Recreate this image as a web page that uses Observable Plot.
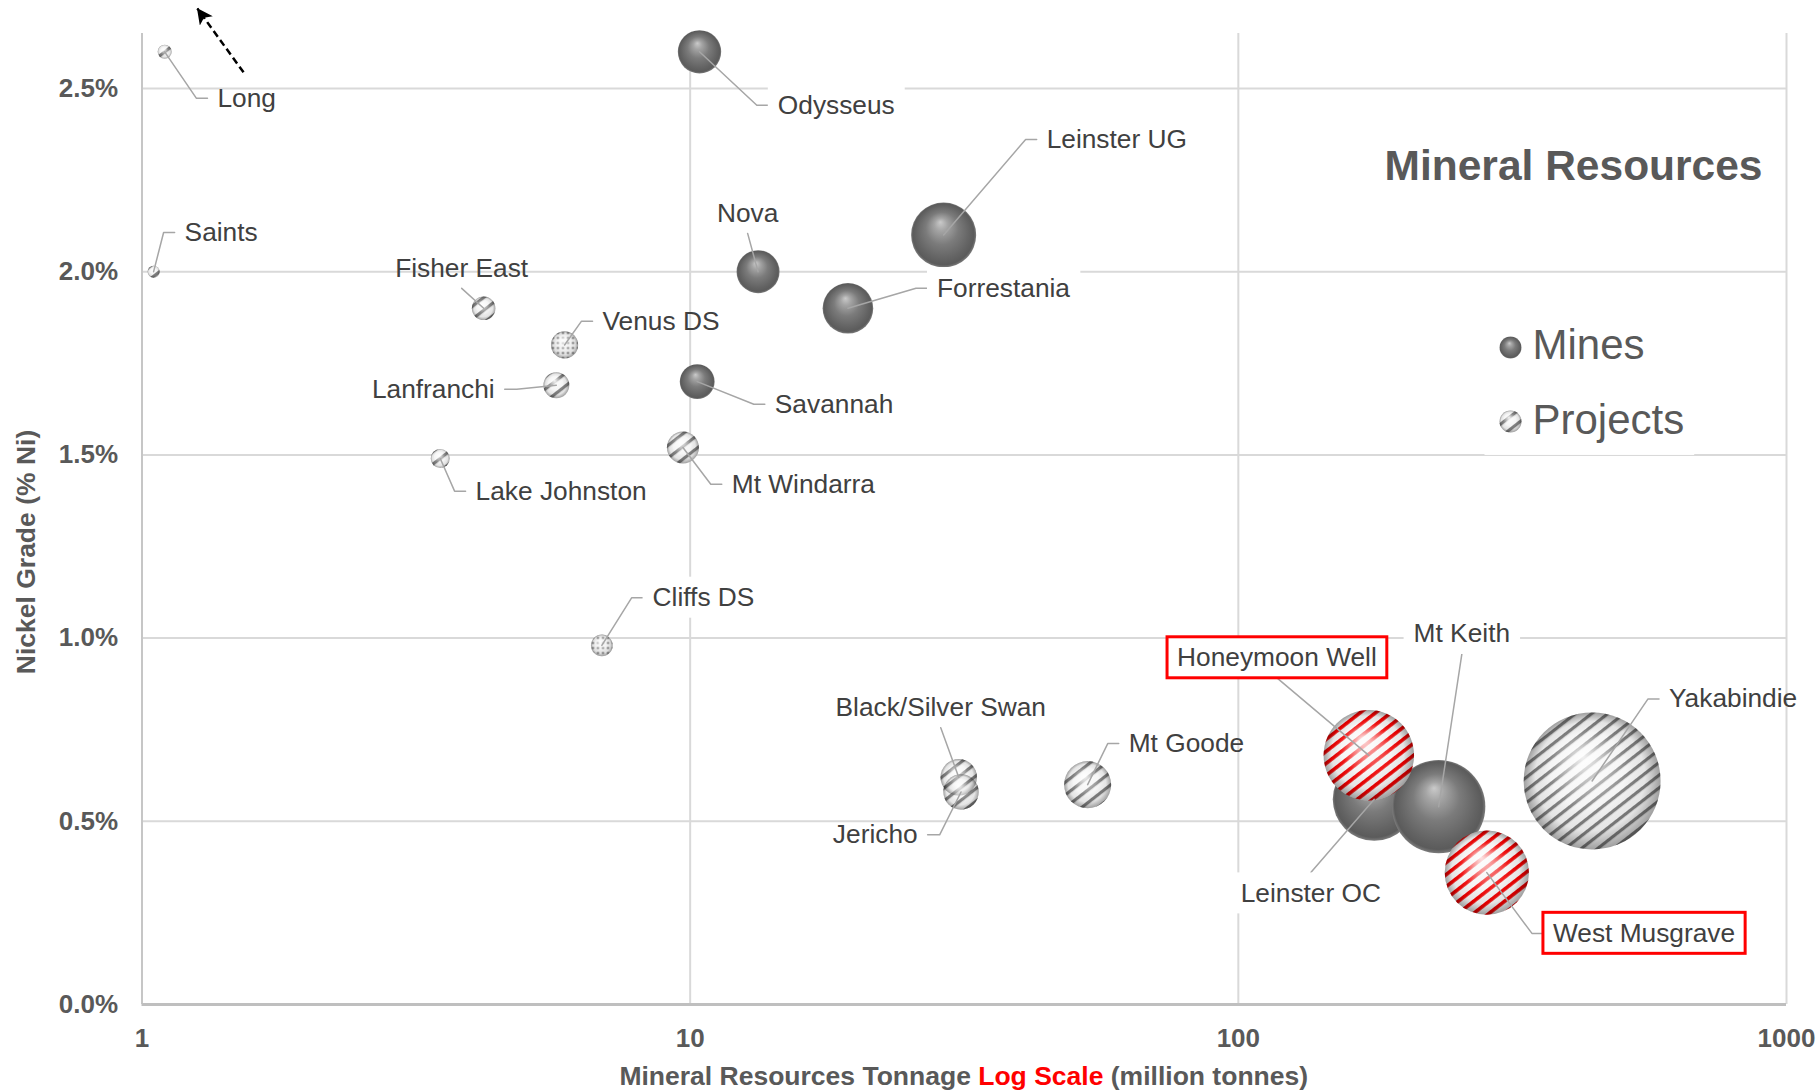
<!DOCTYPE html>
<html>
<head>
<meta charset="utf-8">
<script src="https://cdn.jsdelivr.net/npm/d3@7"></script>
<script src="https://cdn.jsdelivr.net/npm/@observablehq/plot@0.6"></script>
<style>
  html, body { margin: 0; padding: 0; background: #ffffff; overflow: hidden; }
  #chart svg g[aria-label^="x-axis"] text,
  #chart svg g[aria-label^="y-axis"] text {
    font-weight: 700; fill: #595959; font-size: 26px;
    font-family: 'Liberation Sans', Arial, Helvetica, sans-serif;
  }
</style>
</head>
<body>
<div id="chart"></div>
<script>
// ---------------- DATA ----------------
const names = [
  "Long", "Saints", "Odysseus", "Leinster UG", "Nova", "Forrestania", "Fisher East",
  "Venus DS", "Lanfranchi", "Savannah", "Lake Johnston", "Mt Windarra", "Cliffs DS",
  "Black/Silver Swan", "Jericho", "Mt Goode", "Honeymoon Well", "Leinster OC",
  "Mt Keith", "West Musgrave", "Yakabindie"
];
// Mineral resource tonnage (million tonnes)
const tonnage = [1.1, 1.05, 10.4, 29.0, 13.3, 19.4, 4.2, 5.9, 5.7, 10.3, 3.5, 9.7, 6.9,
                 30.9, 31.2, 53.1, 173, 177, 232, 284, 442];
// Nickel grade (% Ni)
const grade = [2.6, 2.0, 2.6, 2.1, 2.0, 1.9, 1.9, 1.8, 1.69, 1.7, 1.49, 1.52, 0.98,
               0.62, 0.58, 0.60, 0.68, 0.56, 0.54, 0.36, 0.61];
const category = ["Project", "Project", "Mine", "Mine", "Mine", "Mine", "Project",
                  "Project", "Project", "Mine", "Project", "Project", "Project",
                  "Project", "Project", "Project", "Project", "Mine",
                  "Mine", "Project", "Project"];
const texture = ["stripes", "stripes", "solid", "solid", "solid", "solid", "stripes",
                 "dots", "stripes", "solid", "stripes", "stripes", "dots",
                 "stripes", "stripes", "stripes", "red", "solid",
                 "solid", "red", "stripes"];
const highlighted = ["Honeymoon Well", "West Musgrave"];

const xTicks = [1, 10, 100, 1000];
const yTicks = [0, 0.5, 1.0, 1.5, 2.0, 2.5];
const legendLabels = ["Mines", "Projects"];
const chartTitle = "Mineral Resources";
const xTitleParts = ["Mineral Resources Tonnage ", "Log Scale", " (million tonnes)"];
const yTitle = "Nickel Grade (% Ni)";

// ---------------- LAYOUT (annotation placement, in data units) ----------------
const labelPlacement = [
  ["Long", 1.373, 2.473, "right"],
  ["Saints", 1.196, 2.107, "right"],
  ["Odysseus", 14.45, 2.454, "right"],
  ["Leinster UG", 44.7, 2.361, "right"],
  ["Nova", 12.73, 2.159, "above"],
  ["Forrestania", 28.2, 1.955, "right"],
  ["Fisher East", 3.83, 2.009, "above"],
  ["Venus DS", 6.92, 1.865, "right"],
  ["Lanfranchi", 4.40, 1.679, "left"],
  ["Savannah", 14.27, 1.638, "right"],
  ["Lake Johnston", 4.06, 1.401, "right"],
  ["Mt Windarra", 11.91, 1.420, "right"],
  ["Cliffs DS", 8.54, 1.110, "right"],
  ["Black/Silver Swan", 28.65, 0.810, "above"],
  ["Jericho", 26.0, 0.463, "left"],
  ["Mt Goode", 63.1, 0.712, "right"],
  ["Honeymoon Well", 117.6, 0.946, "above"],
  ["Mt Keith", 255.7, 1.011, "above"],
  ["Leinster OC", 135.6, 0.303, "below"],
  ["West Musgrave", 374.9, 0.194, "right"],
  ["Yakabindie", 610.5, 0.834, "right"]
];
const boxedLabels = ["Odysseus", "Forrestania", "Cliffs DS", "Mt Keith", "Leinster OC",
                     "Honeymoon Well", "West Musgrave"];
const arrowAnnotation = {x1: 1.532, y1: 2.544, x2: 1.262, y2: 2.718};

const FONT = "'Liberation Sans', Arial, Helvetica, sans-serif";
const W = 1818, H = 1091;
const M = {top: 33, right: 32, bottom: 87, left: 141.5};
const yMax = 2.65;
const LABEL_SIZE = 26.3;

// ---------------- BUILD ----------------
const deposits = names.map((name, i) => ({
  name, t: tonnage[i], g: grade[i], cat: category[i], tex: texture[i],
  c: tonnage[i] * grade[i] / 100   // contained nickel (Mt) -> bubble size
}));
const byName = new Map(deposits.map(d => [d.name, d]));
const mines = deposits.filter(d => d.cat === "Mine");
const projects = deposits.filter(d => d.cat === "Project");

const xs = d3.scaleLog([1, 1000], [M.left, W - M.right]);
const ys = d3.scaleLinear([0, yMax], [H - M.bottom, M.top]);

const labels = labelPlacement.map(([name, x, y, side]) => ({name, x, y, side}));
const leaders = labels.flatMap(l => {
  const d = byName.get(l.name);
  const px = xs(l.x), py = ys(l.y);
  const pts = l.side === "right" ? [[px - 21, py], [px - 10, py]]
    : l.side === "left" ? [[px + 22, py], [px + 10, py]]
    : l.side === "above" ? [[px, py + 20]]
    : [[px, py - 21]];
  return [{name: l.name, x: d.t, y: d.g},
          ...pts.map(([a, b]) => ({name: l.name, x: xs.invert(a), y: ys.invert(b)}))];
});

const dotOpts = {x: "t", y: "g", r: "c", sort: null};
const textOpts = {x: "x", y: "y", text: "name", fontSize: LABEL_SIZE, fill: "#404040"};

const plot = Plot.plot({
  width: W, height: H,
  marginTop: M.top, marginRight: M.right, marginBottom: M.bottom, marginLeft: M.left,
  style: {fontFamily: FONT, fontSize: "26px", color: "#595959", background: "white", overflow: "visible"},
  x: {type: "log", domain: [1, 1000], ticks: xTicks, tickFormat: d => String(d),
      tickSize: 0, tickPadding: 24, label: null},
  y: {domain: [0, yMax], ticks: yTicks, tickFormat: d => d.toFixed(1) + "%",
      tickSize: 0, tickPadding: 24, label: null},
  r: {type: "sqrt", domain: [0, 2.7], range: [0, 68.5]},
  marks: [
    Plot.ruleY(yTicks.filter(d => d > 0), {stroke: "#d9d9d9", strokeWidth: 2}),
    Plot.ruleX(xTicks.filter(d => d > 1), {stroke: "#d9d9d9", strokeWidth: 2}),
    Plot.ruleX([1], {stroke: "#c6c6c6", strokeWidth: 2}),
    Plot.ruleY([0], {stroke: "#bfbfbf", strokeWidth: 3}),
    Plot.link([arrowAnnotation], {x1: "x1", y1: "y1", x2: "x2", y2: "y2",
      stroke: "black", strokeWidth: 2.5, strokeDasharray: "7,4"}),
    Plot.dot(mines, {...dotOpts, fill: "url(#mineGrad)"}),
    Plot.dot(projects.filter(d => d.tex === "stripes"), {...dotOpts, fill: "url(#stripesGray)"}),
    Plot.dot(projects.filter(d => d.tex === "dots"), {...dotOpts, fill: "url(#dotsGray)"}),
    Plot.dot(projects.filter(d => d.tex === "red"), {...dotOpts, fill: "url(#stripesRed)"}),
    Plot.dot(projects, {...dotOpts, fill: "url(#shade)"}),
    Plot.line(leaders, {x: "x", y: "y", z: "name", stroke: "#a6a6a6", strokeWidth: 1.5}),
    Plot.text(labels.filter(l => l.side === "right"), {...textOpts, textAnchor: "start"}),
    Plot.text(labels.filter(l => l.side === "left"), {...textOpts, textAnchor: "end"}),
    Plot.text(labels.filter(l => l.side === "above" || l.side === "below"), {...textOpts, textAnchor: "middle"}),
    // legend
    Plot.dot([legendLabels[0]], {frameAnchor: "top-right", dx: -276, dy: 314, r: 11, fill: "url(#mineGrad)"}),
    Plot.dot([legendLabels[1]], {frameAnchor: "top-right", dx: -276, dy: 388, r: 11, fill: "url(#stripesGray)"}),
    Plot.dot([legendLabels[1]], {frameAnchor: "top-right", dx: -276, dy: 388, r: 11, fill: "url(#shade)"}),
    Plot.text([legendLabels[0]], {frameAnchor: "top-right", dx: -254, dy: 312, text: d => d,
      textAnchor: "start", lineAnchor: "middle", fontSize: 42, fill: "#595959"}),
    Plot.text([legendLabels[1]], {frameAnchor: "top-right", dx: -254, dy: 387, text: d => d,
      textAnchor: "start", lineAnchor: "middle", fontSize: 42, fill: "#595959"}),
    // title
    Plot.text([chartTitle], {frameAnchor: "top-right", dx: -24, dy: 133, text: d => d,
      textAnchor: "end", lineAnchor: "middle", fontSize: 42.5, fontWeight: "bold", fill: "#595959"})
  ]
});

// ---------------- DEFS (sphere shading, textures, arrow head) ----------------
const svg = d3.select(plot);
const defs = svg.insert("defs", ":first-child");
function radial(id, stops, fx, fy) {
  const g = defs.append("radialGradient").attr("id", id)
    .attr("cx", "50%").attr("cy", "50%").attr("r", "50%").attr("fx", fx).attr("fy", fy);
  stops.forEach(([o, c, op]) => g.append("stop").attr("offset", o)
    .attr("stop-color", c).attr("stop-opacity", op == null ? 1 : op));
}
radial("mineGrad", [[0, "#cacaca"], [0.2, "#a4a4a4"], [0.5, "#7b7b7b"], [0.82, "#636363"],
                    [0.94, "#5b5b5b"], [1, "#7c7c7c"]], "45%", "30%");
radial("shade", [[0, "#ffffff", 0.9], [0.25, "#ffffff", 0.55], [0.55, "#ffffff", 0.1],
                 [0.8, "#000000", 0.06], [1, "#000000", 0.35]], "43%", "32%");
function stripes(id, color, period, w) {
  const p = defs.append("pattern").attr("id", id).attr("patternUnits", "userSpaceOnUse")
    .attr("width", period).attr("height", period).attr("patternTransform", "rotate(-38)");
  p.append("rect").attr("width", period).attr("height", period).attr("fill", "#f4f4f4");
  p.append("rect").attr("width", period).attr("height", w).attr("fill", color);
}
stripes("stripesGray", "#7c7c7c", 10, 3.2);
stripes("stripesRed", "#f00000", 9.5, 3.6);
const dp = defs.append("pattern").attr("id", "dotsGray").attr("patternUnits", "userSpaceOnUse")
  .attr("width", 5).attr("height", 5);
dp.append("rect").attr("width", 5).attr("height", 5).attr("fill", "#eeeeee");
dp.append("circle").attr("cx", 2.5).attr("cy", 2.5).attr("r", 1.1).attr("fill", "#5c5c5c");
defs.append("marker").attr("id", "stealth").attr("viewBox", "0 0 10 10")
  .attr("markerUnits", "userSpaceOnUse").attr("markerWidth", 17).attr("markerHeight", 16)
  .attr("refX", 9.5).attr("refY", 5).attr("orient", "auto")
  .append("path").attr("d", "M0,0 L10,5 L0,10 L2.5,5 Z").attr("fill", "black").attr("stroke", "none");
svg.select('g[aria-label="link"] path').attr("marker-end", "url(#stealth)");

// ---------------- AXIS TITLES ----------------
const xt = svg.append("text")
  .attr("x", (M.left + W - M.right) / 2).attr("y", 1085)
  .attr("text-anchor", "middle").attr("font-family", FONT)
  .attr("font-weight", "bold").attr("font-size", 26.5).style("white-space", "pre");
xt.append("tspan").attr("fill", "#595959").text(xTitleParts[0]);
xt.append("tspan").attr("fill", "#ff0000").text(xTitleParts[1]);
xt.append("tspan").attr("fill", "#595959").text(xTitleParts[2]);
svg.append("text")
  .attr("transform", "translate(25.5,552) rotate(-90)").attr("dy", "0.35em")
  .attr("text-anchor", "middle").attr("font-family", FONT)
  .attr("font-weight", "bold").attr("font-size", 26.5).attr("fill", "#595959")
  .text(yTitle);

document.getElementById("chart").appendChild(plot);

// ---------------- LABEL BOXES ----------------
const svgRect = plot.getBoundingClientRect();
const allTexts = Array.from(plot.querySelectorAll('g[aria-label="text"] text'));
const findText = s => allTexts.find(t => t.textContent === s);
const firstLabelGroup = findText("Odysseus").parentNode;
const boxG = document.createElementNS("http://www.w3.org/2000/svg", "g");
plot.insertBefore(boxG, firstLabelGroup);
const bg = d3.select(boxG);
const rel = r => ({l: r.left - svgRect.left, t: r.top - svgRect.top, r: r.right - svgRect.left, b: r.bottom - svgRect.top});
boxedLabels.forEach(name => {
  const t = findText(name); if (!t) return;
  const b = rel(t.getBoundingClientRect());
  const red = highlighted.includes(name);
  bg.append("rect").attr("x", b.l - 10).attr("y", b.t - 5.5)
    .attr("width", b.r - b.l + 20).attr("height", b.b - b.t + 11)
    .attr("fill", "white").attr("stroke", red ? "#ff0000" : "none").attr("stroke-width", red ? 3 : 0);
});
// legend background
const lb = legendLabels.map(s => rel(findText(s).getBoundingClientRect()));
const L = d3.min(lb, d => d.l) - 48, R = d3.max(lb, d => d.r) + 10;
const T = d3.min(lb, d => d.t) - 12, B = d3.max(lb, d => d.b) + 12;
bg.append("rect").attr("x", L).attr("y", T).attr("width", R - L).attr("height", B - T).attr("fill", "white");
</script>
</body>
</html>
